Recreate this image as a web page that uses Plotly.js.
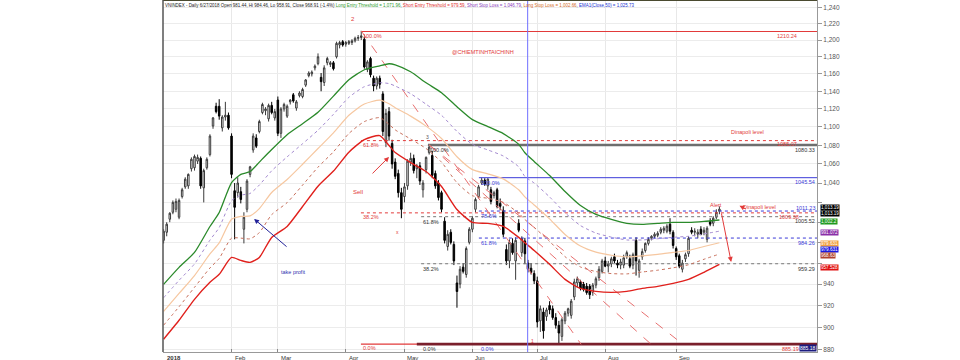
<!DOCTYPE html>
<html>
<head>
<meta charset="utf-8">
<script src="https://cdn.plot.ly/plotly-3.0.1.min.js"></script>
<style>
  html, body { margin: 0; padding: 0; background: #ffffff; }
  #chart { width: 960px; height: 360px; }
</style>
</head>
<body>
<div id="chart"></div>
<script>
// VNINDEX daily candles, 2 Jan 2018 onwards (one entry per trading session)
const openP = [
  982, 990, 1003, 1010, 1013, 1005, 1026, 1036, 1037, 1055, 1056, 1063, 1066, 1035, 1056, 1070, 1101, 1123, 1123, 1099, 1111, 1113,
  1090, 1032, 1030, 1031, 993, 1013, 1049, 1075, 1088, 1095, 1116, 1118, 1109, 1124, 1110,
  1130, 1093, 1120, 1112, 1128, 1136, 1121, 1135, 1134, 1147, 1158, 1160, 1167, 1172, 1156, 1150, 1173, 1171, 1173, 1180, 1194, 1198,
  1195, 1196, 1197, 1199, 1202, 1203, 1201, 1165, 1178, 1155, 1146, 1155, 1137, 1083, 1117, 1082, 1062, 1050, 1030,
  1026, 1037, 1062, 1066, 1055, 1058, 1033, 1054, 1072, 1069, 1050, 1040, 1030, 1001, 976, 990, 978, 941, 940, 956, 949, 980,
  993, 1013, 1026, 1040, 1043, 1037, 1033, 1027, 1033, 1019, 1012, 973, 962, 979, 962, 999, 970, 981.44, 960, 955, 950,
  943, 906, 914, 910, 920, 917, 909, 902, 892, 906, 913, 911, 928, 941, 942, 940, 938, 938, 932, 939, 946, 952,
  962, 957, 959, 966, 960, 958, 958, 966, 964, 958, 982, 953, 966, 972, 979, 984, 986, 987, 990, 992, 991, 998, 990,
  974, 967, 954, 964, 969, 992, 990, 988, 993, 990, 983, 1001, 999, 1005, 1011
];
const highP = [
  993, 1000, 1010, 1022, 1024, 1024, 1035, 1046, 1050, 1067, 1070, 1070, 1068, 1055, 1067, 1092, 1111, 1127, 1131, 1113, 1128, 1116,
  1093, 1040, 1046, 1036, 1010, 1044, 1058, 1093, 1092, 1108, 1127, 1122, 1126, 1128, 1120,
  1134, 1122, 1127, 1125, 1131, 1138, 1130, 1140, 1144, 1154, 1163, 1164, 1171, 1184, 1161, 1170, 1180, 1175, 1175, 1198, 1199, 1200,
  1199, 1200, 1201, 1204, 1206, 1211, 1204, 1176, 1180, 1158, 1157, 1158, 1140, 1120, 1122, 1086, 1066, 1054, 1035,
  1040, 1065, 1072, 1070, 1060, 1062, 1043, 1068, 1080.33, 1074, 1053, 1043, 1032, 1005, 992, 993, 981, 948, 957, 960, 976, 995,
  1006, 1025, 1038, 1045.54, 1045, 1045, 1036, 1032, 1035, 1024, 1016, 978, 983, 984, 985, 1003, 986, 984.46, 963, 960, 953,
  947, 920, 918, 918, 924, 920, 913, 906, 909, 915, 918, 926, 945, 947, 944, 942, 941, 940, 941, 947, 957, 964,
  966, 962, 966, 969, 963, 964, 968, 972, 968, 970, 985, 964, 974, 980, 985, 987, 990, 991, 995, 996, 998, 1004, 992,
  976, 969, 963, 970, 986, 995, 994, 993, 996, 995, 996, 1004, 1006, 1013, 1016
];
const lowP = [
  979, 986, 1000, 1008, 1010, 1003, 1024, 1034, 1034, 1052, 1053, 1060, 1034, 1020, 1054, 1068, 1098, 1115, 1108, 1095, 1107, 1097,
  1045, 983, 1025, 1019, 979, 1010, 1046, 1072, 1077, 1093, 1114, 1113, 1106, 1114, 1107,
  1090, 1088, 1117, 1110, 1125, 1127, 1118, 1133, 1132, 1145, 1156, 1157, 1164, 1170, 1140, 1146, 1170, 1168, 1164, 1178, 1190, 1192,
  1192, 1194, 1194, 1197, 1199, 1200, 1166, 1162, 1156, 1140, 1142, 1143, 1090, 1078, 1085, 1055, 1044, 1025, 1004,
  1020, 1033, 1058, 1050, 1045, 1038, 1025, 1050, 1070, 1045, 1034, 1022, 1010, 979, 972, 978, 958, 918, 936, 950, 946, 978,
  990, 1010, 1024, 1038, 1037, 1033, 1018, 1024, 1014, 1012, 985, 958, 955, 968, 944, 990, 966, 958.91, 951, 949, 940,
  900, 896, 890, 906, 912, 907, 899, 885.19, 888, 903, 910, 908, 925, 937, 934, 933, 930, 926, 929, 936, 943, 950,
  956, 951, 956, 960, 955, 954, 955, 964, 955, 954, 948, 946, 963, 970, 977, 982, 984, 985, 988, 989, 989, 988, 974,
  963, 955, 951, 961, 966, 988, 986, 984, 987, 987, 980, 996, 996, 1003, 1008
];
const closeP = [
  991, 998, 1009, 1020, 1021, 1022, 1033, 1044, 1049, 1065, 1068, 1067, 1037, 1053, 1065, 1090, 1110, 1117, 1112, 1111, 1113, 1099,
  1049, 1015, 1040, 1023, 1005, 1042, 1057, 1090, 1079, 1106, 1125, 1120, 1124, 1116, 1117,
  1093, 1120, 1125, 1123, 1130, 1129, 1128, 1138, 1142, 1153, 1161, 1162, 1169, 1180, 1151, 1167, 1178, 1173, 1166, 1196, 1197, 1194,
  1197, 1198, 1199, 1202, 1203, 1205, 1168, 1174, 1159, 1146, 1155, 1148, 1095, 1115, 1090, 1060, 1047, 1030, 1013,
  1036, 1063, 1066, 1053, 1058, 1042, 1040, 1067, 1078, 1048, 1037, 1025, 1013, 982, 988, 980, 962, 933, 954, 952, 974, 993,
  1004, 1023, 1036, 1043, 1039, 1044, 1021, 1030, 1016, 1016, 988, 962, 980, 970, 982, 992, 984, 968.91, 954, 951, 943,
  905, 917, 897, 916, 916, 909, 902, 895, 907, 913, 917, 924, 942, 945, 936, 935, 932, 930, 939, 945, 954, 962,
  957, 959, 964, 962, 958, 961, 965, 970, 957, 968, 962, 962, 971, 979, 983, 986, 988, 989, 993, 994, 996, 991, 977,
  966, 957, 960, 968, 984, 990, 991, 990, 988, 992, 994, 998, 1004, 1010, 1013.19
];

// Indicator lines, read at every few sessions
const lineIdx    = [0, 5, 10, 15, 18, 22, 25, 28, 31, 35, 40, 45, 50, 55, 60, 65, 70, 73, 75, 80, 85, 90, 95, 100, 105, 110, 115, 117, 120, 125, 130, 135, 140, 145, 150, 155, 160, 165, 170, 175, 180];
const longEntry  = [939.7, 955.8, 970.2, 995.7, 1009.8, 1040.5, 1049, 1052, 1062, 1075.4, 1091.5, 1103.6, 1116.3, 1134.5, 1153.2, 1164.8, 1169.4, 1171.8, 1170.6, 1162.4, 1149.7, 1138.3, 1122.5, 1108.1, 1100.4, 1092.7, 1081, 1071.96, 1062.6, 1047.8, 1031.2, 1016.8, 1007.8, 1002.8, 998.8, 997.8, 998.8, 999.8, 999.8, 1000.8, 1002.2];
const shortStop  = [927.2, 943.5, 959.1, 982.2, 994.7, 1021.8, 1027.4, 1029.2, 1037.9, 1052.8, 1067.6, 1081.7, 1096.4, 1114.0, 1133.1, 1145.2, 1149.7, 1148.8, 1146.0, 1137.2, 1125.3, 1112.9, 1095.1, 1081.1, 1075.0, 1068.5, 1057.0, 1046.79, 1040.0, 1025.6, 1009.5, 996.6, 989.2, 985.2, 982.4, 982.4, 983.6, 985.0, 986.0, 988.4, 991.07];
const ema50      = [914.6, 931.2, 948.0, 968.7, 979.5, 1003.0, 1005.8, 1006.3, 1013.7, 1030.2, 1043.7, 1059.7, 1076.5, 1093.5, 1112.9, 1125.5, 1130.0, 1125.8, 1121.4, 1112.0, 1100.9, 1087.4, 1067.7, 1054.0, 1049.6, 1044.3, 1033.0, 1025.73, 1017.4, 1003.3, 987.8, 976.4, 970.5, 967.5, 966.0, 966.9, 968.3, 970.2, 972.1, 976.0, 979.63];
const longStop   = [902.1, 918.9, 936.9, 955.2, 964.4, 984.2, 984.2, 983.5, 989.6, 1007.6, 1019.8, 1037.8, 1056.6, 1073.0, 1092.8, 1105.9, 1110.3, 1102.8, 1096.8, 1086.8, 1076.5, 1061.9, 1040.3, 1026.9, 1024.2, 1020.1, 1009.0, 1002.66, 994.8, 981.0, 966.1, 956.2, 951.8, 949.9, 949.6, 951.4, 953.1, 955.4, 958.3, 963.6, 968.63];
const shortEntry = [889.5, 906.5, 925.7, 941.6, 949.2, 965.4, 962.5, 960.6, 965.4, 984.9, 995.8, 1015.8, 1036.7, 1052.5, 1072.6, 1086.2, 1090.5, 1079.7, 1072.2, 1061.5, 1052, 1036.4, 1012.8, 999.8, 998.8, 995.8, 984.9, 979.59, 972.1, 958.7, 944.4, 935.9, 933.1, 932.2, 933.1, 935.9, 937.8, 940.6, 944.4, 951.1, 958.6];

// Descending trend lines: [start index, start value, end index, end value]
const trendLines = [
  [64, 1211, 135.2, 885],
  [86, 1080.33, 157.9, 885],
  [86, 1080.33, 168.2, 885]
];

// Month starts (session index) and their labels
const monthIdx    = [0, 22, 37, 59, 78, 100, 121, 143, 166];
const monthLabels = ['2018', 'Feb', 'Mar', 'Apr', 'May', 'Jun', 'Jul', 'Aug', 'Sep'];

// Price axis ticks (labels hidden where the indicator tags sit)
const yTicks = [880, 900, 920, 940, 960, 980, 1000, 1020, 1040, 1060, 1080, 1100, 1120, 1140, 1160, 1180, 1200, 1220, 1240];
const yHidden = [960, 980, 1000, 1020];

// Fibonacci retracement levels
const fibRed   = [[1210.24, '100.0%'], [1085.07, '61.8%'], [1009.38, '38.2%'], [885.19, '0.0%']];
const fibBlack = [[1080.33, '100.0%'], [1005.52, '61.8%'], [959.29, '38.2%'], [885.19, '0.0%']];
const fibBlue  = [[1045.54, '100.0%'], [1011.23, '78.6%'], [984.26, '61.8%'], [885.19, '0.0%']];

// Last values of the indicators shown in the price scale
const scaleTags = [
  ['1,013.19', 1014.6, '#000000'],
  ['1,013.19', 1008.4, '#000000'],
  ['1,002.2',  1001.0, '#1f9a1f'],
  ['991.072',  989.6,  '#8a2fa8'],
  ['979.631',  979.3,  '#f0a040'],
  ['979.631',  973.3,  '#1a1ae0'],
  ['968.63',   967.4,  '#b0412e'],
  ['957.528',  956.0,  '#e01010']
];

const X_END = 211.6;
const L = v => Math.log10(v);
const idx = closeP.map((_, i) => i);

const traces = [];

function hline(x0, x1, v, color, width, dash) {
  traces.push({ type: 'scatter', mode: 'lines', x: [x0, x1], y: [v, v],
    line: { color: color, width: width, dash: dash || 'solid' }, hoverinfo: 'skip' });
}

// Fibonacci lines
fibRed.forEach(([v, t], k) => hline(63.9, X_END, v, '#e23a3a', (k === 0 || k === 3) ? 1.2 : 1, (k === 0 || k === 3) ? 'solid' : 'dot'));
fibBlack.forEach(([v, t], k) => hline(k === 0 ? 85.6 : 83.4, X_END, v, k === 0 ? '#6e6e6e' : '#777777', k === 0 ? 2.4 : 1, (k === 0 || k === 3) ? 'solid' : 'dot'));
fibBlue.forEach(([v, t], k) => hline(102.1, X_END, v, '#3a3ad8', 1, (k === 0 || k === 3) ? 'solid' : 'dot'));
hline(82, X_END, 885.19, '#7a1f2b', 2.6);

// Trend lines
trendLines.forEach(([a, va, b, vb]) => traces.push({ type: 'scatter', mode: 'lines', x: [a, b], y: [va, vb],
  line: { color: '#e87070', width: 1, dash: 'dash' }, hoverinfo: 'skip' }));

// Indicator bands
const band = (y, color, width, dash) => traces.push({
  type: 'scatter', mode: 'lines', x: lineIdx, y: y,
  line: { color: color, width: width, dash: dash, shape: 'spline', smoothing: 0.6 }, hoverinfo: 'skip' });
band(longStop, '#c8705c', 1, 'dot');
band(ema50, '#f6c7a0', 1.2, 'solid');
band(shortStop, '#a48ad0', 1, 'dot');
band(longEntry, '#2b8a2b', 1.3, 'solid');
band(shortEntry, '#e0201c', 1.4, 'solid');

// Candles
traces.push({
  type: 'candlestick', x: idx, open: openP, high: highP, low: lowP, close: closeP,
  increasing: { line: { color: '#3a3a3a', width: 1 }, fillcolor: '#ffffff' },
  decreasing: { line: { color: '#000000', width: 1 }, fillcolor: '#000000' },
  whiskerwidth: 0, hoverinfo: 'skip'
});

const F = 'Liberation Sans, Arial, sans-serif';
const ann = [];
const txt = (x, y, text, color, size, xanchor, yanchor, extra) => ann.push(Object.assign({
  x: x, y: L(y), xref: 'x', yref: 'y', text: text, showarrow: false,
  font: { family: F, size: size, color: color }, xanchor: xanchor || 'left', yanchor: yanchor || 'top'
}, extra || {}));

// Fibonacci labels
fibRed.forEach(([v, t]) => txt(63.9, v, t, '#e23a3a', 5.5, 'left', 'top', { yshift: 1 }));
fibBlack.forEach(([v, t], k) => txt(k === 0 ? 85.6 : 83.4, v, t, '#333333', 5.5, 'left', 'top', { yshift: 0 }));
fibBlue.forEach(([v, t]) => txt(102.1, v, t, '#3a3ad8', 5.5, 'left', 'top', { yshift: 0 }));

// Level values at the right edge
txt(205.8, 1210.24, '1210.24', '#e23a3a', 5.5, 'right', 'top', { yshift: 1 });
txt(205.8, 1085.07, '1085.07', '#e23a3a', 5.5, 'right', 'top', { yshift: 2 });
txt(X_END, 1080.33, '1080.33', '#333333', 5.5, 'right', 'top', { yshift: 0 });
txt(X_END, 1045.54, '1045.54', '#3a3ad8', 5.5, 'right', 'top', { yshift: 1 });
txt(206.4, 1009.38, '1009.38', '#e23a3a', 5.5, 'right', 'top', { yshift: 1 });
txt(X_END, 1011.23, '1011.23', '#3a3ad8', 5.5, 'right', 'bottom', { yshift: -2 });
txt(X_END, 1005.52, '1005.52', '#333333', 5.5, 'right', 'top', { yshift: 1 });
txt(X_END, 984.26, '984.26', '#3a3ad8', 5.5, 'right', 'top', { yshift: 0 });
txt(X_END, 959.29, '959.29', '#333333', 5.5, 'right', 'top', { yshift: 0 });
txt(206.4, 885.19, '885.19', '#e23a3a', 5.5, 'right', 'top', { yshift: 0 });

// Wave marks and notes
txt(61.4, 1226, '2', '#e23a3a', 6, 'center', 'middle');
txt(85.5, 1089, '3', '#555555', 5, 'center', 'middle');
txt(75.6, 990, 'x', '#e23a3a', 5, 'center', 'middle');
txt(119.6, 888, '1', '#e23a3a', 5, 'center', 'middle');
txt(103.5, 1186, '@CHIEMTINHTAICHINH', '#e23a3a', 5.5, 'center', 'middle');
txt(63.0, 1031, 'Sell', '#e23a3a', 6, 'center', 'middle');
txt(42.2, 951, 'take profit', '#3030b0', 5.5, 'center', 'middle');
txt(178.8, 1017, 'Alert', '#e23a3a', 5.5, 'center', 'middle');
txt(187.0, 1015, 'Dinapoli level', '#e23a3a', 5.5, 'left', 'middle');
txt(183.0, 1094, 'Dinapoli level', '#e23a3a', 5.5, 'left', 'middle');

// Arrows
const arrow = (x, y, ax, ay, color) => ann.push({
  x: x, y: L(y), xref: 'x', yref: 'y', ax: ax, ay: ay, text: '', showarrow: true,
  arrowhead: 2, arrowsize: 1, arrowwidth: 1, arrowcolor: color
});
arrow(73.0, 1067.5, -18, 18, '#e23a3a');
arrow(29.3, 1003.3, 34, 29, '#22229a');
arrow(183.8, 961.0, -10, -50, '#e23a3a');
arrow(186.5, 1016.5, 8, 4, '#e23a3a');

// Header line
ann.push({
  xref: 'paper', yref: 'paper', x: 0, y: 1, xanchor: 'left', yanchor: 'top', yshift: -1, showarrow: false,
  font: { family: F, size: 4.45, color: '#222222' },
  text: 'VNINDEX - Daily 6/27/2018 Open 981.44, Hi 984.46, Lo 958.91, Close 968.91 (-1.4%) ' +
        '<span style="color:#2e9b2e">Long Entry Threshold = 1,071.96</span>, ' +
        '<span style="color:#e03030">Short Entry Threshold = 979.59</span>, ' +
        '<span style="color:#8a3ab9">Short Stop Loss = 1,046.79</span>, ' +
        '<span style="color:#d2691e">Long Stop Loss = 1,002.66</span>, ' +
        '<span style="color:#2030d0">EMA1(Close,50) = 1,025.73</span>'
});

// Month labels under the time axis
monthIdx.forEach((m, k) => ann.push({
  x: m, y: 0, xref: 'x', yref: 'paper', text: k === 0 ? '<b>' + monthLabels[k] + '</b>' : monthLabels[k],
  showarrow: false, xanchor: 'left', yanchor: 'top', xshift: 1, yshift: -1,
  font: { family: F, size: 6, color: '#333333' }
}));

// Indicator tags on the price scale
scaleTags.forEach(([t, v, c]) => ann.push({
  x: 1.0046, y: L(v), xref: 'paper', yref: 'y', text: t, showarrow: false, xanchor: 'left', yanchor: 'middle',
  font: { family: F, size: 4.6, color: '#ffffff' }, bgcolor: c, borderpad: 0
}));
ann.push({ x: X_END, y: L(885.19), xref: 'x', yref: 'y', text: '885.18', showarrow: false, xanchor: 'right', yanchor: 'top',
  font: { family: F, size: 5, color: '#ffffff' }, bgcolor: '#1c1c80', borderpad: 0 });

const shapes = [
  // crosshair
  { type: 'line', xref: 'x', yref: 'paper', x0: 117.9, x1: 117.9, y0: 0, y1: 1, line: { color: '#7070ff', width: 1 } },
  // highlighted zones
  { type: 'rect', xref: 'x', yref: 'y', x0: 108, x1: 203, y0: L(1007.8), y1: L(1013.6), fillcolor: 'rgba(238,110,110,0.45)', line: { width: 0 }, layer: 'below' },
  { type: 'rect', xref: 'x', yref: 'y', x0: 176, x1: 203, y0: L(1079.5), y1: L(1086.5), fillcolor: 'rgba(238,110,110,0.35)', line: { width: 0 }, layer: 'below' },
  // alert circle
  { type: 'circle', xref: 'x', yref: 'y', x0: 173.2, x1: 179.7, y0: L(987.3), y1: L(1005.3), fillcolor: 'rgba(240,120,120,0.55)', line: { width: 0 } },
  // frame
  { type: 'line', xref: 'paper', yref: 'paper', x0: 0, x1: 1, y0: 1, y1: 1, line: { color: '#4a4a30', width: 2 } },
  { type: 'line', xref: 'paper', yref: 'paper', x0: 0, x1: 0, y0: 0, y1: 1, line: { color: '#555555', width: 1.5 } }
];

const layout = {
  width: 960, height: 360,
  margin: { l: 163, r: 143, t: 0, b: 8 },
  paper_bgcolor: '#ffffff', plot_bgcolor: '#ffffff',
  showlegend: false, hovermode: false,
  font: { family: F, size: 6.5, color: '#444444' },
  xaxis: {
    range: [-0.2, X_END], tickvals: monthIdx, showticklabels: false,
    ticks: 'inside', ticklen: 3, tickcolor: '#888888',
    showgrid: true, gridcolor: '#e8e8e8', gridwidth: 1, zeroline: false,
    showline: true, linecolor: '#999999', linewidth: 1,
    rangeslider: { visible: false }, fixedrange: true
  },
  yaxis: {
    type: 'log', side: 'right', range: [L(878.2), L(1249)],
    tickvals: yTicks, ticktext: yTicks.map(v => yHidden.includes(v) ? '' : v.toLocaleString('en-US')),
    ticks: 'outside', ticklen: 4, tickcolor: '#999999',
    tickfont: { family: F, size: 6.5, color: '#555555' },
    showgrid: true, gridcolor: '#ececec', gridwidth: 1, zeroline: false,
    showline: true, linecolor: '#999999', linewidth: 1, fixedrange: true
  },
  shapes: shapes,
  annotations: ann
};

Plotly.newPlot('chart', traces, layout, { staticPlot: true, displayModeBar: false });
</script>
</body>
</html>
